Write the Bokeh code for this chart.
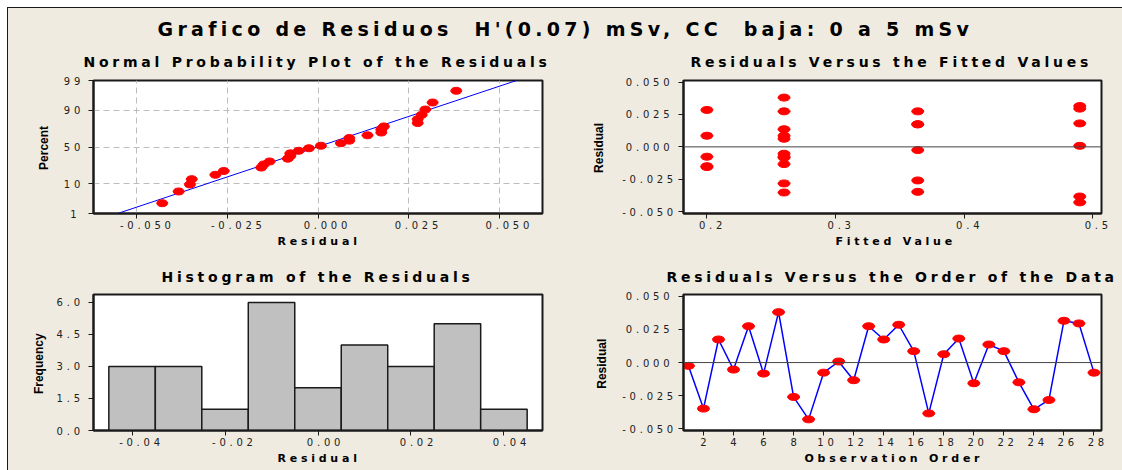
from math import pi
from statistics import NormalDist
import numpy as np
from bokeh.plotting import figure
from bokeh.layouts import row, column
from bokeh.models import (Range1d, FixedTicker, NumeralTickFormatter, Span,
                          InlineStyleSheet, Title)
from bokeh.core.properties import value
from bokeh.embed import file_html
from bokeh.resources import INLINE

# ---------------- data ----------------
observation = list(range(1, 29))
residuals = [-0.0025, -0.0347, 0.0174, -0.0053, 0.0274, -0.0083, 0.0380, -0.0259,
             -0.0428, -0.0076, 0.0008, -0.0133, 0.0274, 0.0174, 0.0285, 0.0086,
             -0.0383, 0.0063, 0.0181, -0.0156, 0.0136, 0.0086, -0.0149, -0.0352,
             -0.0282, 0.0315, 0.0295, -0.0076]
fitted = [0.364, 0.364, 0.364, 0.26, 0.364, 0.26, 0.26, 0.364,
          0.49, 0.26, 0.49, 0.26, 0.26, 0.364, 0.2, 0.26,
          0.49, 0.26, 0.49, 0.2, 0.26, 0.2, 0.2, 0.26,
          0.26, 0.49, 0.49, 0.2]
hist_centers = [-0.04, -0.03, -0.02, -0.01, 0.0, 0.01, 0.02, 0.03, 0.04]
hist_counts = [3, 3, 1, 6, 2, 4, 3, 5, 1]
hist_width = 0.01
percent_ticks = [1, 10, 50, 90, 99]
npp_x_ticks = [-0.05, -0.025, 0.0, 0.025, 0.05]
resid_y_ticks = [-0.05, -0.025, 0.0, 0.025, 0.05]
fitted_x_ticks = [0.2, 0.3, 0.4, 0.5]
order_x_ticks = list(range(2, 29, 2))
hist_x_ticks = [-0.04, -0.02, 0.0, 0.02, 0.04]
hist_y_ticks = [0.0, 1.5, 3.0, 4.5, 6.0]

# the double gaps of the original title are kept with a no-break space
MAIN_TITLE = "Grafico de Residuos \u00a0H'(0.07) mSv, CC \u00a0baja: 0 a 5 mSv"

# ---------------- styling ----------------
BG = "#EFEBE0"
DARK = "#1a1a1a"
RED = "#FF0000"
BLUE = "#0000FF"
spaced = InlineStyleSheet(css=":host { letter-spacing: 3.75px; }")
spaced_title = InlineStyleSheet(css=":host { letter-spacing: 4.3px; }")

nd = NormalDist()


def panel(width, height, left, right, top, bottom, x_range, y_range,
          title, title_offset, title_standoff, xlabel, xlabel_offset, ylab_standoff):
    p = figure(width=width, height=height, x_range=x_range, y_range=y_range,
               toolbar_location=None, output_backend="svg",
               min_border_left=left, min_border_right=right,
               min_border_top=top, min_border_bottom=bottom,
               stylesheets=[spaced])
    p.background_fill_color = "white"
    p.border_fill_color = BG
    p.outline_line_color = DARK
    p.outline_line_width = 2
    p.grid.visible = False
    p.title.text = title
    p.title.align = "left"
    p.title.offset = title_offset
    p.title.text_font = "DejaVu Sans"
    p.title.text_font_style = "bold"
    p.title.text_font_size = "14px"
    p.title.text_color = "#000000"
    p.title.standoff = title_standoff
    for ax in p.axis:
        ax.axis_line_width = 2
        ax.axis_line_color = DARK
        ax.major_tick_out = 5
        ax.major_tick_in = 0
        ax.major_tick_line_color = DARK
        ax.minor_tick_line_color = None
        ax.major_label_text_font = "DejaVu Sans"
        ax.major_label_text_font_size = "10px"
        ax.major_label_text_color = "#222222"
        ax.major_label_standoff = 2
    p.yaxis.major_label_standoff = ylab_standoff
    p.add_layout(Title(text=xlabel, align="left", offset=xlabel_offset,
                       text_font="DejaVu Sans", text_font_style="bold",
                       text_font_size="11px", text_color="#000000",
                       standoff=3), "below")
    return p


def strip(width, height, text, xpos, ycenter):
    s = figure(width=width, height=height, x_range=Range1d(0, width),
               y_range=Range1d(0, height), toolbar_location=None, title=None,
               output_backend="svg", min_border=0,
               x_axis_location=None, y_axis_location=None)
    s.grid.visible = False
    s.outline_line_color = None
    s.background_fill_color = BG
    s.border_fill_color = BG
    s.text(x=[xpos], y=[ycenter], text=[text], angle=pi / 2,
           text_align="center", text_baseline="middle",
           text_font=value("Liberation Sans"), text_font_style="bold",
           text_font_size="12px", text_color="#000000")
    return s


# ---------------- normal probability plot ----------------
n = len(residuals)
sorted_res = sorted(residuals)
npp_z = [nd.inv_cdf((i - 0.3) / (n + 0.4)) for i in range(1, n + 1)]
mu = float(np.mean(residuals))
sd = float(np.std(residuals, ddof=1))
z_lo, z_hi = nd.inv_cdf(percent_ticks[0] / 100), nd.inv_cdf(percent_ticks[-1] / 100)
pct_z = [nd.inv_cdf(v / 100) for v in percent_ticks]

TOP_H, BOT_H = 210, 220
L_W, R_W = 508, 510

p1 = panel(L_W, TOP_H, 41, 18, 40, 37, Range1d(-0.0617, 0.0617), Range1d(z_lo, z_hi),
           "Normal Probability Plot of the Residuals", -10, 21, "Residual", 184, 12)
p1.xaxis.ticker = FixedTicker(ticks=npp_x_ticks)
p1.xaxis.formatter = NumeralTickFormatter(format="0.000")
p1.yaxis.ticker = FixedTicker(ticks=pct_z)
p1.yaxis.major_label_overrides = {z: str(v) for z, v in zip(pct_z, percent_ticks)}
p1.xgrid.visible = True
p1.ygrid.visible = True
for g in (p1.xgrid, p1.ygrid):
    g.grid_line_color = "#BDBDBD"
    g.grid_line_dash = "6 4"
    g.grid_line_width = 1
p1.line([mu + sd * z_lo, mu + sd * z_hi], [z_lo, z_hi], line_color=BLUE, line_width=1)
p1.ellipse(sorted_res, npp_z, width=11, height=7, width_units="screen",
           height_units="screen", fill_color=RED, line_color=RED)

# ---------------- residuals vs fitted ----------------
p2 = panel(R_W, TOP_H, 71, 21, 40, 37, Range1d(0.1818, 0.5069), Range1d(-0.0514, 0.0512),
           "Residuals Versus the Fitted Values", 7, 21, "Fitted Value", 152, 24)
p2.xaxis.ticker = FixedTicker(ticks=fitted_x_ticks)
p2.xaxis.formatter = NumeralTickFormatter(format="0.0")
p2.yaxis.ticker = FixedTicker(ticks=resid_y_ticks)
p2.yaxis.formatter = NumeralTickFormatter(format="0.000")
p2.add_layout(Span(location=0, dimension="width", line_color="#444444", line_width=1))
p2.ellipse(fitted, residuals, width=12, height=7, width_units="screen",
           height_units="screen", fill_color=RED, line_color=RED)

# ---------------- histogram ----------------
p3 = panel(L_W, BOT_H, 41, 18, 44, 40, Range1d(-0.0483, 0.0483), Range1d(0, 6.37),
           "Histogram of the Residuals", 68, 19, "Residual", 184, 16)
p3.xaxis.ticker = FixedTicker(ticks=hist_x_ticks)
p3.xaxis.formatter = NumeralTickFormatter(format="0.00")
p3.yaxis.ticker = FixedTicker(ticks=hist_y_ticks)
p3.yaxis.formatter = NumeralTickFormatter(format="0.0")
p3.vbar(x=hist_centers, top=hist_counts, width=hist_width, bottom=0,
        fill_color="#C0C0C0", line_color=DARK, line_width=1.5)

# ---------------- residuals vs order ----------------
p4 = panel(R_W, BOT_H, 71, 21, 44, 40, Range1d(0.67, 28.5), Range1d(-0.0512, 0.0513),
           "Residuals Versus the Order of the Data", -17, 19, "Observation Order", 121, 24)
p4.xaxis.ticker = FixedTicker(ticks=order_x_ticks)
p4.yaxis.ticker = FixedTicker(ticks=resid_y_ticks)
p4.yaxis.formatter = NumeralTickFormatter(format="0.000")
p4.add_layout(Span(location=0, dimension="width", line_color="#444444", line_width=1))
p4.line(observation, residuals, line_color=BLUE, line_width=1.5)
p4.ellipse(observation, residuals, width=12, height=7, width_units="screen",
           height_units="screen", fill_color=RED, line_color=RED)

# ---------------- vertical axis label strips ----------------
s1 = strip(44, TOP_H, "Percent", 35.5, TOP_H - 106.5)
s2 = strip(52, TOP_H, "Residual", 38, TOP_H - 106.5)
s3 = strip(44, BOT_H, "Frequency", 30.6, BOT_H - 112)
s4 = strip(52, BOT_H, "Residual", 41, BOT_H - 112)

# ---------------- header with main title ----------------
HEAD_W, HEAD_H = 1114, 32
header = figure(width=HEAD_W, height=HEAD_H, toolbar_location=None, output_backend="svg",
                title=None, min_border=0, x_axis_location=None, y_axis_location=None,
                x_range=Range1d(0, HEAD_W), y_range=Range1d(0, HEAD_H),
                stylesheets=[spaced_title])
header.grid.visible = False
header.outline_line_color = None
header.background_fill_color = BG
header.border_fill_color = BG
header.text(x=[149], y=[11.6], text=[MAIN_TITLE], text_align="left",
            text_baseline="middle", text_font=value("DejaVu Sans"),
            text_font_style="bold", text_font_size="19px", text_color="#000000")

layout = column(header, row(s1, p1, s2, p2), row(s3, p3, s4, p4),
                margin=(7, 0, 0, 7),
                styles={"border-top": "1px solid #1a1a1a",
                        "border-left": "1px solid #1a1a1a",
                        "background-color": BG})

open("out.html", "w").write(file_html(layout, INLINE))
